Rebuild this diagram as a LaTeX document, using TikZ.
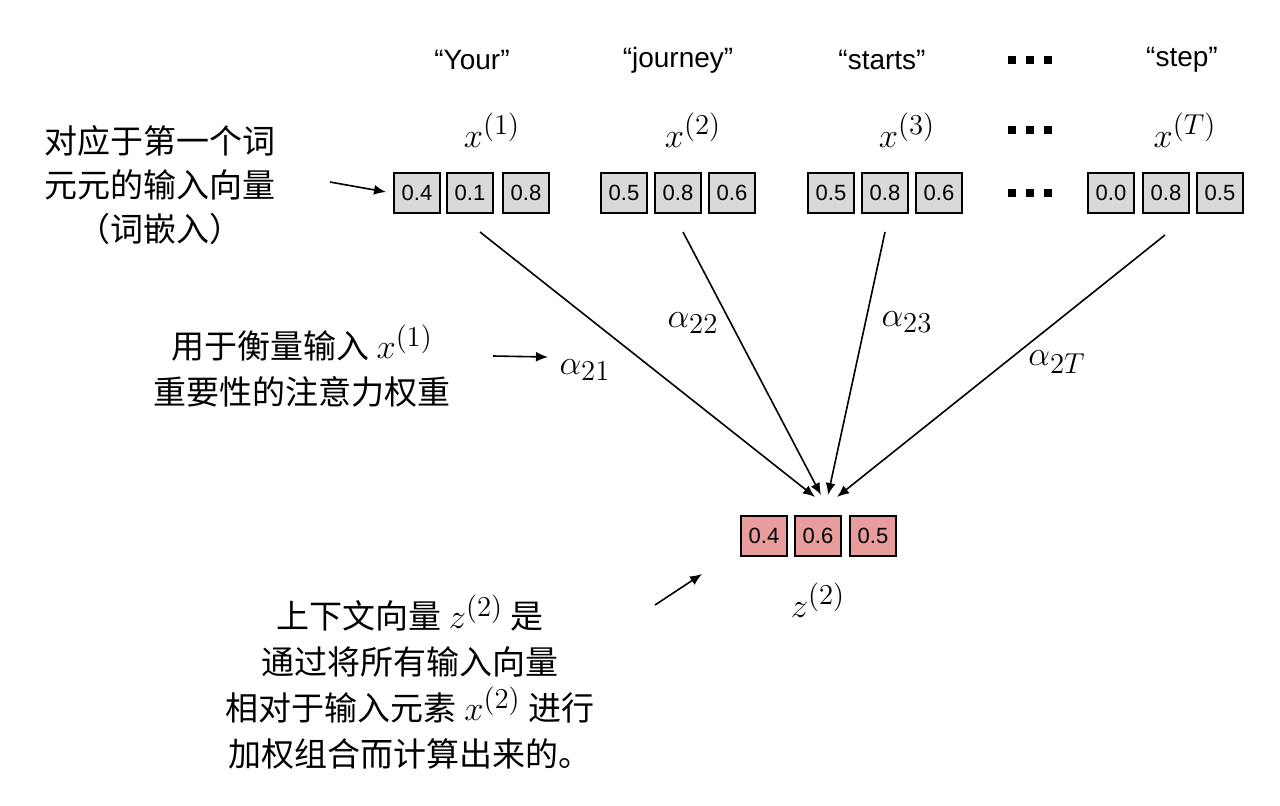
\documentclass[tikz,border=0pt]{standalone}
\usepackage{fontspec}
\newfontfamily\cjk{Noto Sans CJK SC}
\newfontfamily\sans{Liberation Sans}
\definecolor{pinkbox}{RGB}{232,156,156}
\usetikzlibrary{arrows.meta}
\begin{document}
\begin{tikzpicture}[x=0.5pt,y=-0.5pt,
  box/.style={draw=black,line width=0.8pt,fill=gray!30,minimum width=23pt,minimum height=20pt,inner sep=0pt,font=\sans\fontsize{11}{12}\selectfont},
  outbox/.style={box,fill=pinkbox},
  word/.style={font=\sans\fontsize{14}{16}\selectfont},
  lab/.style={font=\fontsize{19}{21}\selectfont},
  cn/.style={font=\cjk\fontsize{16.5}{19}\selectfont,align=center},
  arr/.style={-{Latex[length=6pt,width=5pt]},line width=0.8pt},
  dots/.style={font=\fontsize{16}{16}\selectfont}]
\useasboundingbox (0,0) rectangle (1280,805);
\foreach \n/\x/\v in {a1/417/0.4,a2/470/0.1,a3/526/0.8,b1/624/0.5,b2/678/0.8,b3/732/0.6,c1/831/0.5,c2/885/0.8,c3/939/0.6,d1/1111/0.0,d2/1166/0.8,d3/1220/0.5}
  \node[box] (\n) at (\x,193) {\v};
\foreach \n/\x/\v in {z1/764/0.4,z2/818/0.6,z3/873/0.5}
  \node[outbox] (\n) at (\x,536) {\v};
\node[word] (w1) at (472,60) {“Your”};
\node[word] (w2) at (678,60) {“journey”};
\node[word] (w3) at (882,60) {“starts”};
\node[word] (w4) at (1182,60) {“step”};
\foreach \n/\y in {dd1/60,dd2/130,dd3/193}
  \node[dots] (\n) at (1030,\y) {\rule{4pt}{4pt}\hspace{5pt}\rule{4pt}{4pt}\hspace{5pt}\rule{4pt}{4pt}};
\node[lab] (x1) at (492,130) {$x^{(1)}$};
\node[lab] (x2) at (693,130) {$x^{(2)}$};
\node[lab] (x3) at (907,130) {$x^{(3)}$};
\node[lab] (xT) at (1185,130) {$x^{(T)}$};
\node[lab] (zl) at (818,600) {$z^{(2)}$};
\coordinate (s1) at (480,232);
\coordinate (s2) at (683,232);
\coordinate (s3) at (885,232);
\coordinate (s4) at (1165,235);
\coordinate (e1) at (815,497);
\coordinate (e2) at (821,495);
\coordinate (e3) at (828,495);
\coordinate (e4) at (837,497);
\draw[arr] (s1) -- (e1);
\draw[arr] (s2) -- (e2);
\draw[arr] (s3) -- (e3);
\draw[arr] (s4) -- (e4);
\node[lab] (al1) at (585,370) {$\alpha_{21}$};
\node[lab] (al2) at (693,323) {$\alpha_{22}$};
\node[lab] (al3) at (907,322) {$\alpha_{23}$};
\node[lab] (alT) at (1057,362) {$\alpha_{2T}$};
\node[cn] (t1) at (160,185) {对应于第一个词\\[3pt]元元的输入向量\\[3pt]（词嵌入）};
\node[cn] (t2) at (302,366) {用于衡量输入 {\fontsize{19}{21}\selectfont$x^{(1)}$}\\[4pt]重要性的注意力权重};
\node[cn] (t3) at (410,682) {上下文向量 {\fontsize{19}{21}\selectfont$z^{(2)}$} 是\\[4pt]通过将所有输入向量\\[4pt]相对于输入元素 {\fontsize{19}{21}\selectfont$x^{(2)}$} 进行\\[4pt]加权组合而计算出来的。};
\coordinate (p1) at (330,182); \coordinate (q1) at (386,192);
\coordinate (p2) at (493,356); \coordinate (q2) at (548,357);
\coordinate (p3) at (655,605); \coordinate (q3) at (702,574);
\draw[arr] (p1) -- (q1);
\draw[arr] (p2) -- (q2);
\draw[arr] (p3) -- (q3);
\end{tikzpicture}
\end{document}
